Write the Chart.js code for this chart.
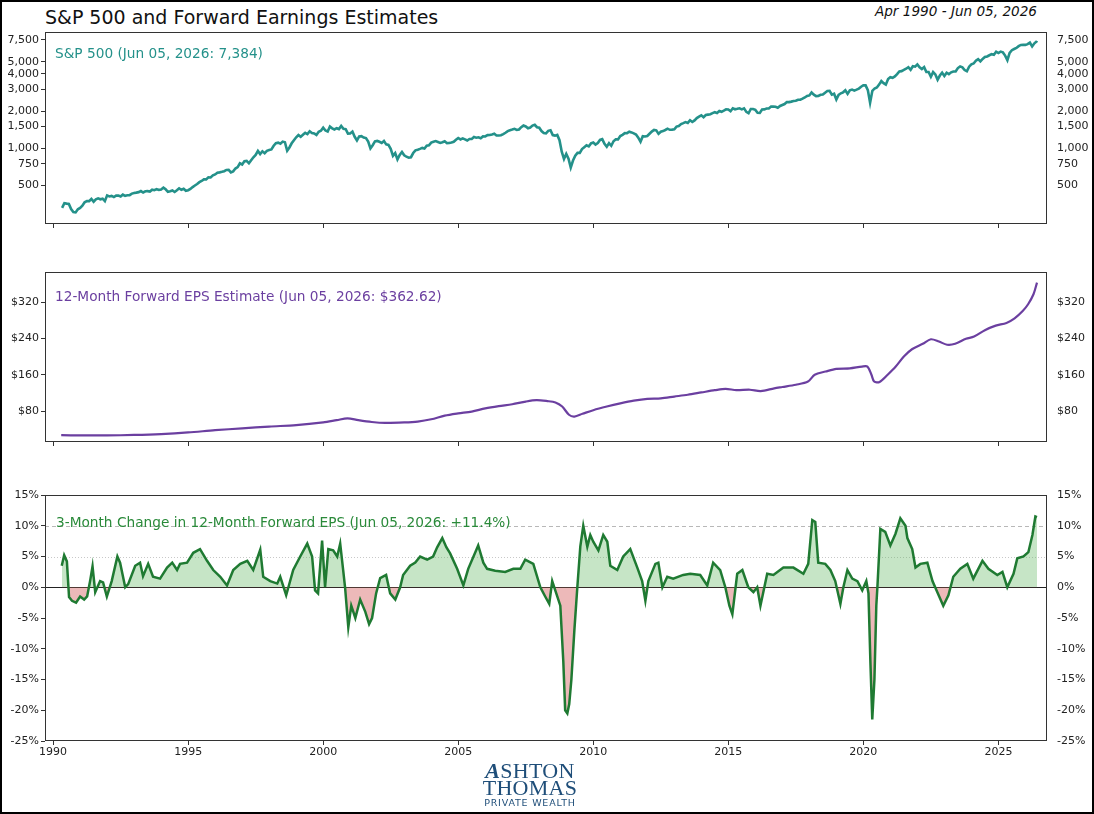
<!DOCTYPE html>
<html>
<head>
<meta charset="utf-8">
<script src="https://cdn.jsdelivr.net/npm/chart.js@4.4.1/dist/chart.umd.min.js"></script>
<style>
  html, body { margin: 0; padding: 0; background: #fff; }
  body { width: 1094px; height: 814px; position: relative; overflow: hidden; font-family: "DejaVu Sans", sans-serif; }
  #frame { position: absolute; left: 0; top: 0; width: 1090px; height: 810px; border: 2px solid #000; pointer-events: none; }
  canvas { position: absolute; left: 0; }
  .title { position: absolute; left: 45px; top: 6px; font-size: 19px; color: #111; }
  .range { position: absolute; right: 57px; top: 3px; font-size: 13.6px; font-style: italic; color: #111; }
  .label { position: absolute; font-size: 13.7px; white-space: nowrap; }
  #logo { position: absolute; left: 430px; top: 762px; width: 200px; text-align: center; color: #1f4e79; }
  #logo .big { font-family: "Liberation Serif", "DejaVu Serif", serif; font-size: 22px; line-height: 17px; letter-spacing: 0.3px; }
  #logo .small { font-size: 9.5px; line-height: 13px; letter-spacing: 0.8px; }
</style>
</head>
<body>
<div class="title">S&amp;P 500 and Forward Earnings Estimates</div>
<div class="range">Apr 1990 - Jun 05, 2026</div>

<canvas id="spxChart" width="1094" height="210" style="top:24px"></canvas>
<canvas id="epsChart" width="1094" height="190" style="top:262px"></canvas>
<canvas id="changeChart" width="1094" height="280" style="top:485px"></canvas>

<div class="label" style="left:55px; top:45px; color:#24918a">S&amp;P 500 (Jun 05, 2026: 7,384)</div>
<div class="label" style="left:55px; top:288px; color:#6b3fa0">12-Month Forward EPS Estimate (Jun 05, 2026: $362.62)</div>
<div class="label" style="left:56px; top:514px; color:#2a8a3a">3-Month Change in 12-Month Forward EPS (Jun 05, 2026: +11.4%)</div>

<div id="logo">
  <div class="big"><i><b>A</b></i>SHTON</div>
  <div class="big">THOMAS</div>
  <div class="small">PRIVATE WEALTH</div>
</div>
<div id="frame"></div>

<script>
// S&P 500 month-end closes, Apr 1990 .. May 2026 (a few months use the intra-month low)
const spxStart = 1990 + 4 / 12;
const spxMonthly = [
  331, 361, 358, 356, 323, 306, 304, 322, 330,
  344, 367, 375, 375, 390, 371, 388, 395, 388, 392, 375, 417,
  409, 413, 404, 415, 415, 408, 424, 414, 418, 419, 431, 436,
  439, 443, 452, 440, 450, 451, 448, 464, 459, 468, 462, 466,
  482, 467, 446, 451, 457, 444, 458, 475, 463, 472, 454, 459,
  470, 487, 501, 515, 533, 545, 562, 562, 584, 582, 605, 616,
  636, 640, 646, 654, 669, 671, 640, 652, 687, 705, 757, 741,
  786, 791, 757, 801, 848, 885, 954, 899, 947, 915, 955, 970,
  980, 1049, 1102, 1112, 1091, 1134, 1121, 957, 1017, 1099, 1164, 1229,
  1280, 1238, 1286, 1335, 1302, 1373, 1329, 1320, 1283, 1363, 1389, 1469,
  1394, 1366, 1499, 1452, 1421, 1455, 1431, 1518, 1437, 1429, 1315, 1320,
  1366, 1240, 1160, 1249, 1256, 1224, 1211, 1134, 1000, 1060, 1139, 1148,
  1130, 1107, 1147, 1077, 1067, 990, 870, 916, 815, 886, 936, 880,
  856, 841, 848, 917, 964, 975, 990, 1008, 996, 1051, 1058, 1112,
  1131, 1145, 1126, 1107, 1121, 1141, 1102, 1104, 1115, 1130, 1174, 1212,
  1181, 1204, 1181, 1157, 1191, 1191, 1234, 1220, 1229, 1207, 1249, 1248,
  1280, 1281, 1295, 1311, 1270, 1270, 1277, 1304, 1336, 1378, 1401, 1418,
  1438, 1407, 1421, 1482, 1531, 1503, 1455, 1474, 1527, 1549, 1481, 1468,
  1379, 1331, 1323, 1386, 1400, 1280, 1267, 1283, 1165, 940, 820, 903,
  826, 700, 798, 873, 919, 919, 987, 1021, 1057, 1036, 1096, 1115,
  1074, 1104, 1169, 1187, 1089, 1031, 1102, 1049, 1141, 1183, 1181, 1258,
  1286, 1327, 1326, 1364, 1345, 1321, 1292, 1219, 1131, 1253, 1247, 1258,
  1312, 1366, 1408, 1398, 1310, 1362, 1379, 1407, 1441, 1412, 1416, 1426,
  1498, 1515, 1569, 1598, 1631, 1606, 1686, 1633, 1682, 1757, 1806, 1848,
  1783, 1859, 1872, 1884, 1924, 1960, 1931, 2003, 1972, 2018, 2068, 2059,
  1995, 2105, 2068, 2086, 2107, 2063, 2104, 1972, 1920, 2079, 2080, 2044,
  1940, 1932, 2060, 2065, 2097, 2099, 2174, 2171, 2168, 2126, 2199, 2239,
  2279, 2364, 2363, 2384, 2412, 2423, 2470, 2472, 2519, 2575, 2648, 2674,
  2824, 2714, 2641, 2648, 2705, 2718, 2816, 2902, 2914, 2712, 2760, 2480,
  2704, 2784, 2834, 2946, 2752, 2942, 2980, 2926, 2977, 3038, 3141, 3231,
  3226, 2954, 2330, 2912, 3044, 3100, 3271, 3500, 3363, 3270, 3622, 3756,
  3714, 3811, 3973, 4181, 4204, 4298, 4395, 4523, 4308, 4605, 4567, 4766,
  4516, 4374, 4530, 4132, 4132, 3785, 4130, 3955, 3586, 3872, 4080, 3840,
  4077, 3970, 4109, 4169, 4180, 4450, 4589, 4508, 4288, 4194, 4568, 4770,
  4846, 5096, 5254, 5036, 5278, 5460, 5522, 5648, 5762, 5705, 6032, 5882,
  6041, 5955, 5612, 5150, 5912, 6205, 6339, 6460, 6688, 6840, 6849, 6845,
  6940, 7150, 6650, 7050, 7300
];
const spxLastDate = 2026.43;
const spxLastValue = 7384;

// 12-month forward EPS ($)
const epsDates = [
  1990.3, 1991.0, 1992.0, 1993.0, 1994.0, 1995.0, 1996.0, 1997.0, 1998.0, 1999.0,
  2000.0, 2000.5, 2000.9, 2001.3, 2001.8, 2002.3, 2003.0, 2003.5, 2004.0, 2004.5,
  2005.0, 2005.5, 2006.0, 2006.5, 2007.0, 2007.5, 2007.9, 2008.3, 2008.6, 2008.85,
  2009.1, 2009.3, 2009.6, 2010.0, 2010.5, 2011.0, 2011.5, 2012.0, 2012.5, 2013.0,
  2013.5, 2014.0, 2014.5, 2014.9, 2015.3, 2015.8, 2016.2, 2016.7, 2017.0, 2017.5,
  2017.95, 2018.2, 2018.6, 2019.0, 2019.5, 2019.95, 2020.15, 2020.3, 2020.4, 2020.6,
  2020.9, 2021.2, 2021.5, 2021.8, 2022.2, 2022.5, 2022.8, 2023.1, 2023.4, 2023.8,
  2024.1, 2024.5, 2024.9, 2025.3, 2025.6, 2025.9, 2026.1, 2026.3, 2026.43
];
const epsValues = [
  27, 26.5, 26.5, 27.5, 29.5, 33, 38, 42, 46, 49,
  55, 60, 64, 60, 56, 54, 55, 57, 62, 70,
  75, 79, 86, 91, 95, 101, 104, 102, 99, 90,
  72, 68, 74, 82, 90, 97, 103, 107, 108, 112,
  116, 121, 126, 129, 126, 127, 124, 130, 133, 138,
  145, 160, 167, 173, 174, 178, 178, 160, 145, 144,
  160, 178, 200, 216, 228, 238, 233, 226, 228, 239,
  244, 258, 268, 274, 284, 300, 315, 337, 362.62
];

// 3-month % change in forward EPS
const changeDates = [
  1990.32, 1990.41, 1990.51, 1990.59, 1990.70, 1990.85, 1991.00, 1991.15, 1991.26, 1991.37,
  1991.46, 1991.56, 1991.74, 1991.85, 1991.99, 1992.17, 1992.38, 1992.48, 1992.67, 1992.78,
  1993.04, 1993.22, 1993.33, 1993.52, 1993.70, 1993.96, 1994.22, 1994.41, 1994.59, 1994.70,
  1994.96, 1995.19, 1995.44, 1995.70, 1995.93, 1996.19, 1996.44, 1996.67, 1996.93, 1997.19,
  1997.41, 1997.67, 1997.78, 1998.04, 1998.30, 1998.41, 1998.63, 1998.89, 1999.15, 1999.41,
  1999.59, 1999.70, 1999.81, 1999.96, 2000.07, 2000.19, 2000.37, 2000.52, 2000.63, 2000.74,
  2000.81, 2000.93, 2001.04, 2001.19, 2001.37, 2001.56, 2001.70, 2001.81, 2001.96, 2002.11,
  2002.33, 2002.48, 2002.67, 2002.85, 2002.96, 2003.22, 2003.41, 2003.59, 2003.85, 2004.07,
  2004.22, 2004.41, 2004.56, 2004.70, 2004.96, 2005.19, 2005.37, 2005.74, 2005.93, 2006.07,
  2006.37, 2006.74, 2007.04, 2007.30, 2007.48, 2007.78, 2008.04, 2008.22, 2008.37, 2008.48,
  2008.63, 2008.78, 2008.89, 2008.96, 2009.04, 2009.11, 2009.19, 2009.30, 2009.41, 2009.52,
  2009.63, 2009.78, 2009.89, 2010.00, 2010.19, 2010.37, 2010.52, 2010.63, 2010.89, 2011.11,
  2011.37, 2011.63, 2011.81, 2011.93, 2012.04, 2012.30, 2012.41, 2012.56, 2012.74, 2012.96,
  2013.33, 2013.59, 2013.96, 2014.22, 2014.44, 2014.70, 2014.89, 2015.04, 2015.15, 2015.33,
  2015.52, 2015.74, 2015.93, 2016.07, 2016.19, 2016.44, 2016.67, 2017.04, 2017.41, 2017.78,
  2017.96, 2018.11, 2018.22, 2018.33, 2018.59, 2018.78, 2018.96, 2019.15, 2019.26, 2019.41,
  2019.59, 2019.78, 2019.96, 2020.11, 2020.19, 2020.26, 2020.33, 2020.41, 2020.48, 2020.52,
  2020.63, 2020.81, 2021.00, 2021.19, 2021.37, 2021.56, 2021.63, 2021.81, 2021.93, 2022.11,
  2022.37, 2022.56, 2022.74, 2022.96, 2023.15, 2023.33, 2023.59, 2023.85, 2024.07, 2024.41,
  2024.63, 2024.96, 2025.15, 2025.33, 2025.56, 2025.70, 2025.93, 2026.11, 2026.26, 2026.37,
  2026.43
];
const changeValues = [
  3.5, 5.2, 4.2, -1.6, -2.2, -2.5, -1.5, -2, -1.5, 1,
  3.4, -0.8, 1, 0.8, -1.5, 1, 5, 4, 0, 0.5,
  3.5, 4, 1.8, 3.8, 1.7, 1.4, 3.2, 4, 2.8, 3.8,
  4, 5.6, 6.2, 4.3, 2.8, 1.7, 0.3, 2.8, 3.8, 4.3,
  2.8, 6.1, 1.7, 1, 0.6, 1.7, -1.3, 2.8, 5, 7.1,
  5, -0.5, -1, 7.6, 0, 6.2, 6, 5, 7.1, 2.8,
  0, -6.5, -3, -5, -2, -4, -6, -5, -1, 1.5,
  2, -1, -2, 0, 2, 3.5, 4, 5, 4.5, 5,
  6.5, 8, 6.5, 5.5, 3, 0.3, 3, 6.8, 4, 3,
  2.7, 2.5, 3, 3, 4.5, 3.8, 0, -1.5, -2.7, 1,
  -1, -3, -12, -20, -20.5, -19, -15, -7, 0, 6.6,
  10, 6.6, 8.5, 7.4, 6, 8.5, 7.4, 3.5, 2.8, 5,
  6.2, 3.2, 1, -2.2, 1, 3.8, 4, 0, 1.7, 1.4,
  2, 2.2, 2, 0.3, 4, 2.8, 0, -3, -4.4, 2.2,
  2.8, 0, -0.8, 0, -3, 2.2, 2, 3.2, 3.2, 2.2,
  3.8, 10.9, 10.6, 4, 3.8, 2.8, 1, -2.7, 0, 2.8,
  1.4, 1, -0.5, 1, -1, -12, -21.5, -15, -3, 0,
  9.5, 9, 6.8, 8.7, 11.2, 10, 8, 6.2, 3.2, 3.8,
  4, 1, -0.8, -3, -1.3, 1.7, 3, 3.8, 1.4, 4.3,
  3, 2, 2.5, 0, 2.2, 4.7, 5, 5.7, 8.5, 11.5,
  11.4
];

const spxTicks = [500, 750, 1000, 1500, 2000, 3000, 4000, 5000, 7500];
const epsTicks = [80, 160, 240, 320];
const changeTicks = [-25, -20, -15, -10, -5, 0, 5, 10, 15];
const yearTicks = [1990, 1995, 2000, 2005, 2010, 2015, 2020, 2025];

const xMin = 1989.7, xMax = 2026.8;
const tickFont = { family: 'DejaVu Sans', size: 11 };

const spxPoints = spxMonthly.map((v, i) => ({ x: spxStart + i / 12, y: v }));
spxPoints.push({ x: spxLastDate, y: spxLastValue });
const epsPoints = epsDates.map((d, i) => ({ x: d, y: epsValues[i] }));
const changePoints = changeDates.map((d, i) => ({ x: d, y: changeValues[i] }));

// box round the plot area
const framePlugin = {
    id: 'framePlugin',
    afterDraw(chart) {
        const a = chart.chartArea, ctx = chart.ctx;
        ctx.save();
        ctx.strokeStyle = '#333';
        ctx.lineWidth = 1;
        ctx.strokeRect(Math.round(a.left) + 0.5, Math.round(a.top) + 0.5,
            Math.round(a.right - a.left) - 1, Math.round(a.bottom - a.top) - 1);
        ctx.restore();
    }
};

// reference lines at 10% (dashed), 5% (dotted), 0% (solid)
const refLines = {
    id: 'refLines',
    beforeDatasetsDraw(chart) {
        const a = chart.chartArea, ctx = chart.ctx, y = chart.scales.y;
        const lines = [
            { v: 10, color: '#b8b8b8', dash: [4, 3], w: 1 },
            { v: 5, color: '#c8c8c8', dash: [1, 2], w: 1 },
            { v: 0, color: '#222', dash: [], w: 1 }
        ];
        ctx.save();
        lines.forEach(l => {
            const py = Math.round(y.getPixelForValue(l.v)) + 0.5;
            ctx.strokeStyle = l.color;
            ctx.lineWidth = l.w;
            ctx.setLineDash(l.dash);
            ctx.beginPath();
            ctx.moveTo(a.left, py);
            ctx.lineTo(a.right, py);
            ctx.stroke();
        });
        ctx.restore();
    }
};

function xScale(showLabels) {
    return {
        type: 'linear',
        min: xMin,
        max: xMax,
        afterBuildTicks: s => { s.ticks = yearTicks.map(v => ({ value: v })); },
        afterFit: s => { s.height = showLabels ? 24 : 10; },
        grid: { drawOnChartArea: false, drawTicks: true, tickLength: 4, color: '#333' },
        border: { display: false },
        ticks: { display: showLabels, padding: 1, color: '#222', font: tickFont, maxRotation: 0, autoSkip: false,
                 callback: v => String(v) }
    };
}

function yScale(position, type, min, max, ticks, fmt) {
    const left = position === 'left';
    return {
        type: type,
        position: position,
        min: min,
        max: max,
        afterBuildTicks: s => { s.ticks = ticks.map(v => ({ value: v })); },
        afterFit: s => {
            s.width = left ? 45 : 47;
            // keep the plot box where the layout padding puts it
            s.paddingTop = 0;
            s.paddingBottom = 0;
        },
        grid: left ? { drawOnChartArea: false, drawTicks: true, tickLength: 4, color: '#333' }
                   : { display: false, drawTicks: false },
        border: { display: false },
        ticks: { padding: left ? 2 : 10, color: '#222', font: tickFont, autoSkip: false, callback: fmt }
    };
}

function makePanel(id, dataset, yType, yMin, yMax, yTicks, fmt, showYears, padTop, extra) {
    const ctx = document.getElementById(id).getContext('2d');
    return new Chart(ctx, {
        type: 'line',
        data: { datasets: [dataset] },
        options: {
            responsive: false,
            animation: false,
            devicePixelRatio: 1,
            layout: { padding: { top: padTop, left: 0, right: 0, bottom: 0 } },
            plugins: { legend: { display: false }, tooltip: { enabled: false } },
            scales: {
                x: xScale(showYears),
                y: yScale('left', yType, yMin, yMax, yTicks, fmt),
                y2: yScale('right', yType, yMin, yMax, yTicks, fmt)
            }
        },
        plugins: [framePlugin].concat(extra || [])
    });
}

document.addEventListener('DOMContentLoaded', function() {
    // S&P 500 (log scale)
    makePanel('spxChart', {
        data: spxPoints,
        borderColor: '#24918a',
        borderWidth: 2.6,
        pointRadius: 0,
        tension: 0,
        fill: false
    }, 'logarithmic', 245, 8700, spxTicks, v => Number(v).toLocaleString('en-US'), false, 8);

    // Forward EPS
    makePanel('epsChart', {
        data: epsPoints,
        borderColor: '#6b3fa0',
        borderWidth: 2.2,
        pointRadius: 0,
        tension: 0.3,
        fill: false
    }, 'linear', 12, 386, epsTicks, v => '$' + v, false, 10);

    // 3-month change
    makePanel('changeChart', {
        data: changePoints,
        borderColor: '#1f7a32',
        borderWidth: 2.5,
        pointRadius: 0,
        tension: 0,
        fill: { target: { value: 0 }, above: 'rgba(96, 184, 96, 0.36)', below: 'rgba(214, 100, 100, 0.45)' }
    }, 'linear', -25, 15, changeTicks, v => v + '%', true, 10, [refLines]);
});
</script>
</body>
</html>
